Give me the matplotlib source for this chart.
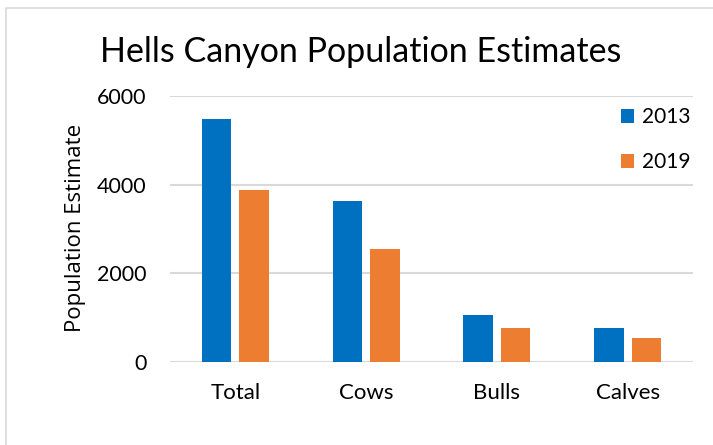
import numpy as np
import matplotlib.pyplot as plt
from matplotlib.patches import Rectangle

categories = ['Total', 'Cows', 'Bulls', 'Calves']
pop_2013 = [5470, 3625, 1050, 765]
pop_2019 = [3890, 2550, 765, 540]
yticks = [0, 2000, 4000, 6000]

plt.rcParams['font.family'] = ['Lato', 'DejaVu Sans']

fig = plt.figure(figsize=(7.13, 4.45), dpi=100)
ax = fig.add_axes([170/713, 1-362/445, 523/713, 266/445])

x = np.arange(len(categories))
w = 0.225
ax.bar(x - 0.143, pop_2013, w, color='#0070C0', label='2013', zorder=3)
ax.bar(x + 0.143, pop_2019, w, color='#ED7D31', label='2019', zorder=3)

ax.set_xlim(-0.5, 3.5)
ax.set_ylim(0, 6000)
ax.set_yticks(yticks)
ax.set_yticklabels([str(v) for v in yticks], fontsize=15.5)
ax.set_xticks(x)
ax.set_xticklabels(categories, fontsize=16)
ax.tick_params(length=0)
ax.tick_params(axis='y', pad=17)
ax.tick_params(axis='x', pad=15)
ax.grid(axis='y', color='#D9D9D9', linewidth=1.5, zorder=0)
for s in ax.spines.values():
    s.set_visible(False)

# y label placed by hand
fig.text(76/713, 1-228/445, 'Population Estimate', fontsize=16, rotation=90,
         ha='center', va='center', family=['Open Sans', 'DejaVu Sans'])

fig.text(361/713, 1-52/445, 'Hells Canyon Population Estimates', fontsize=24.5,
         ha='center', va='center')

ax.legend(loc='upper left', bbox_to_anchor=((620.7-170)/523, (362-107)/266),
          frameon=False, fontsize=15, handlelength=0.65, handleheight=0.65,
          handletextpad=0.36, labelspacing=1.2, borderpad=0, borderaxespad=0)

fig.patches.append(Rectangle((6/713, -0.1), 1.0, 1 - 8/445 + 0.1, transform=fig.transFigure,
                             fill=False, edgecolor='#D9D9D9', linewidth=1.2))

fig.savefig('out.png', dpi=100)
